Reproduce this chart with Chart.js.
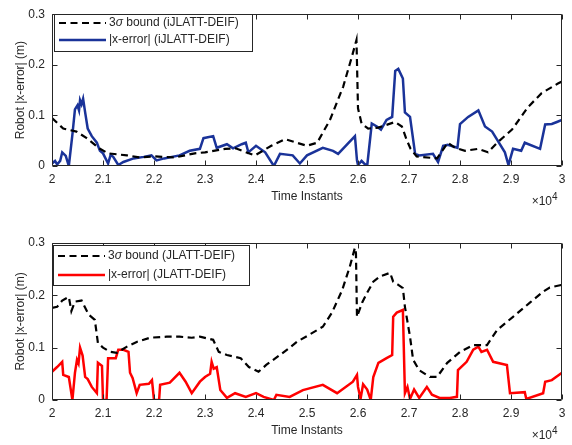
<!DOCTYPE html>
<html>
<head>
<meta charset="utf-8">
<script src="https://cdn.jsdelivr.net/npm/chart.js@4"></script>
<style>
  html, body { margin: 0; padding: 0; background: #fff; }
  #wrap { position: relative; width: 572px; height: 445px; }
  canvas { position: absolute; left: 0; }
</style>
</head>
<body>
<div id="wrap">
  <canvas id="top" width="572" height="222" style="top:0"></canvas>
  <canvas id="bottom" width="572" height="223" style="top:222px"></canvas>
</div>
<script>
// Axis ticks shared by both panels (time in instants, shown as x10^4)
const xTickValues = [20000, 21000, 22000, 23000, 24000, 25000, 26000, 27000, 28000, 29000, 30000];
const xTickLabels = ["2", "2.1", "2.2", "2.3", "2.4", "2.5", "2.6", "2.7", "2.8", "2.9", "3"];
const yTickValues = [0, 0.1, 0.2, 0.3];
const yTickLabels = ["0", "0.1", "0.2", "0.3"];

// Top panel: iJLATT-DEIF
const topBoundT = [20000, 20220, 20480, 20680, 20940, 21100, 21470, 21720, 22000, 22410, 22800, 23000, 23400, 23600,
  23780, 23980, 24300, 24570, 24800, 25000, 25200, 25450, 25710, 25880, 25970, 26000, 26070, 26200, 26400, 26730,
  26860, 26950, 27030, 27150, 27550, 27760, 27900, 28100, 28360, 28550, 28730, 29020, 29330, 29600, 29920, 30000];
const topBoundV = [0.095, 0.074, 0.068, 0.055, 0.034, 0.025, 0.021, 0.017, 0.019, 0.017, 0.025, 0.027, 0.034, 0.035,
  0.028, 0.021, 0.040, 0.053, 0.046, 0.040, 0.046, 0.091, 0.157, 0.216, 0.249, 0.114, 0.084, 0.074, 0.076, 0.087,
  0.078, 0.053, 0.034, 0.019, 0.015, 0.046, 0.036, 0.030, 0.034, 0.027, 0.046, 0.072, 0.116, 0.144, 0.163, 0.167];
const topErrT = [20000, 20060, 20100, 20160, 20200, 20270, 20330, 20400, 20450, 20500, 20530, 20550, 20580, 20610,
  20650, 20700, 20780, 20880, 20940, 21000, 21100, 21150, 21200, 21300, 21400, 21600, 21800, 21950, 22050, 22200,
  22500, 22700, 22900, 22970, 23160, 23230, 23430, 23550, 23720, 23800, 23850, 24000, 24180, 24350, 24470, 24720,
  24860, 25000, 25310, 25510, 25610, 25940, 25980, 26000, 26070, 26120, 26180, 26270, 26370, 26450, 26560, 26670,
  26730, 26790, 26880, 26920, 27020, 27120, 27200, 27470, 27570, 27670, 27760, 27950, 28000, 28160, 28360, 28490,
  28630, 28880, 28950, 29040, 29200, 29270, 29570, 29670, 29800, 29900, 30000];
const topErrV = [0.005, 0.010, 0.003, 0.010, 0.027, 0.020, 0.000, 0.062, 0.112, 0.120, 0.110, 0.130, 0.122, 0.133,
  0.106, 0.074, 0.059, 0.046, 0.030, 0.025, 0.005, 0.022, 0.018, 0.002, 0.008, 0.015, 0.018, 0.021, 0.011, 0.015,
  0.021, 0.030, 0.034, 0.055, 0.059, 0.036, 0.043, 0.035, 0.043, 0.046, 0.027, 0.040, 0.027, 0.000, 0.024, 0.021,
  0.005, 0.021, 0.036, 0.030, 0.024, 0.059, 0.011, 0.002, 0.010, 0.005, 0.000, 0.084, 0.078, 0.072, 0.091, 0.097,
  0.188, 0.192, 0.173, 0.106, 0.097, 0.024, 0.021, 0.024, 0.008, 0.040, 0.042, 0.036, 0.083, 0.097, 0.110, 0.078,
  0.068, 0.027, 0.002, 0.034, 0.030, 0.046, 0.034, 0.082, 0.083, 0.087, 0.091];

// Bottom panel: JLATT-DEIF
const botBoundT = [20000, 20100, 20200, 20330, 20380, 20450, 20580, 20720, 20840, 20900, 21000, 21140, 21270, 21470,
  21660, 21920, 22250, 22500, 22740, 22900, 23160, 23270, 23430, 23700, 23860, 24050, 24200, 24470, 24660, 24800,
  25050, 25310, 25490, 25690, 25840, 25940, 25960, 25980, 26080, 26180, 26300, 26430, 26630, 26690, 26790, 26880,
  26920, 27020, 27080, 27200, 27410, 27550, 27750, 28000, 28260, 28530, 28730, 29040, 29370, 29630, 29760, 30000];
const botBoundV = [0.176, 0.178, 0.190, 0.197, 0.170, 0.188, 0.190, 0.163, 0.153, 0.109, 0.100, 0.092, 0.090, 0.102,
  0.111, 0.119, 0.121, 0.121, 0.119, 0.121, 0.115, 0.092, 0.086, 0.080, 0.063, 0.054, 0.067, 0.086, 0.100, 0.111,
  0.125, 0.140, 0.167, 0.210, 0.255, 0.291, 0.280, 0.159, 0.186, 0.205, 0.226, 0.236, 0.243, 0.226, 0.220, 0.214,
  0.178, 0.121, 0.077, 0.057, 0.044, 0.044, 0.071, 0.092, 0.105, 0.105, 0.134, 0.159, 0.186, 0.207, 0.215, 0.220];
const botErrT = [20000, 20100, 20200, 20220, 20330, 20360, 20400, 20450, 20490, 20520, 20550, 20600, 20650, 20700,
  20780, 20880, 20900, 20980, 21000, 21070, 21100, 21250, 21300, 21400, 21500, 21530, 21580, 21660, 21720, 21900,
  21960, 22000, 22100, 22120, 22310, 22500, 22620, 22740, 22900, 23000, 23100, 23130, 23170, 23230, 23300, 23430,
  23590, 23800, 24000, 24150, 24350, 24400, 24660, 24920, 25310, 25590, 25900, 25980, 26000, 26050, 26100, 26180,
  26250, 26300, 26400, 26560, 26670, 26690, 26760, 26880, 26920, 26970, 27020, 27100, 27200, 27350, 27450, 27600,
  27800, 27940, 27960, 28130, 28260, 28360, 28420, 28530, 28650, 28920, 28980, 29270, 29300, 29630, 29670, 29800,
  30000];
const botErrV = [0.054, 0.063, 0.073, 0.048, 0.044, 0.025, 0.000, 0.052, 0.077, 0.070, 0.100, 0.085, 0.044, 0.040,
  0.025, 0.013, 0.071, 0.065, 0.000, 0.000, 0.080, 0.080, 0.096, 0.096, 0.092, 0.052, 0.042, 0.013, 0.029, 0.031,
  0.038, 0.000, 0.000, 0.029, 0.033, 0.052, 0.035, 0.013, 0.035, 0.044, 0.050, 0.073, 0.060, 0.063, 0.019, 0.004,
  0.013, 0.006, 0.013, 0.006, 0.000, 0.010, 0.006, 0.019, 0.029, 0.013, 0.035, 0.048, 0.025, 0.002, 0.030, 0.020,
  0.000, 0.044, 0.071, 0.080, 0.086, 0.159, 0.167, 0.172, 0.013, 0.025, 0.002, 0.020, 0.004, 0.025, 0.010, 0.004,
  0.004, 0.006, 0.057, 0.073, 0.096, 0.102, 0.092, 0.096, 0.073, 0.067, 0.013, 0.015, 0.002, 0.013, 0.035, 0.038,
  0.052];

const AXIS = "#262626";
const FONT = "'Liberation Sans', Arial, Helvetica, sans-serif";

function pairs(ts, vs) {
  return ts.map((t, i) => ({ x: t, y: vs[i] }));
}

// Draw a label, putting the sigma in italics like MATLAB's tex interpreter
function drawLabel(ctx, text, x, y) {
  const parts = text.split("σ");
  ctx.textBaseline = "middle";
  ctx.textAlign = "left";
  let cx = x;
  parts.forEach((p, i) => {
    if (i > 0) {
      ctx.font = "italic 12px " + FONT;
      ctx.fillText("σ", cx, y);
      cx += ctx.measureText("σ").width;
    }
    ctx.font = "12px " + FONT;
    ctx.fillText(p, cx, y);
    cx += ctx.measureText(p).width;
  });
}

// Box, inward ticks on all sides, boxed legend and the x10^4 exponent
const matlabFrame = {
  id: "matlabFrame",
  afterDatasetsDraw(chart, args, opts) {
    const { ctx, chartArea: a, scales } = chart;
    const L = Math.round(a.left) + 0.5, R = Math.round(a.right) - 0.5;
    const T = Math.round(a.top) + 0.5, B = Math.round(a.bottom) - 0.5;
    ctx.save();
    ctx.strokeStyle = AXIS;
    ctx.lineWidth = 1;
    ctx.setLineDash([]);
    ctx.beginPath();
    for (const v of xTickValues) {
      const px = Math.round(scales.x.getPixelForValue(v)) + 0.5;
      ctx.moveTo(px, B); ctx.lineTo(px, B - 5);
      ctx.moveTo(px, T); ctx.lineTo(px, T + 5);
    }
    for (const v of yTickValues) {
      const py = Math.round(scales.y.getPixelForValue(v)) + 0.5;
      ctx.moveTo(L, py); ctx.lineTo(L + 5, py);
      ctx.moveTo(R, py); ctx.lineTo(R - 5, py);
    }
    ctx.rect(L, T, R - L, B - T);
    ctx.stroke();

    // legend
    const lg = opts.legend;
    ctx.fillStyle = "#fff";
    ctx.fillRect(lg.x, lg.y, lg.w, lg.h);
    ctx.strokeStyle = AXIS;
    ctx.strokeRect(lg.x + 0.5, lg.y + 0.5, lg.w, lg.h);
    chart.data.datasets.forEach((ds, i) => {
      const y = lg.y + lg.rows[i];
      ctx.strokeStyle = ds.borderColor;
      ctx.lineWidth = ds.borderWidth;
      ctx.setLineDash(ds.borderDash || []);
      ctx.beginPath();
      ctx.moveTo(lg.x + 5, y);
      ctx.lineTo(lg.x + 52, y);
      ctx.stroke();
      ctx.setLineDash([]);
      ctx.fillStyle = AXIS;
      drawLabel(ctx, ds.label, lg.x + 55, y);
    });

    // x10^4 exponent under the right end of the axis
    ctx.fillStyle = AXIS;
    ctx.textBaseline = "alphabetic";
    ctx.textAlign = "right";
    ctx.font = "12px " + FONT;
    const ex = a.right - 10, ey = a.bottom + 39;
    ctx.fillText("×10", ex, ey);
    ctx.textAlign = "left";
    ctx.font = "10px " + FONT;
    ctx.fillText("4", ex, ey - 5);
    ctx.restore();
  },
};

function buildChart(id, g, boundT, boundV, errT, errV, boundLabel, errLabel, errColour) {
  const canvas = document.getElementById(id);
  const H = canvas.height;
  const tickFont = { family: FONT, size: 12 };
  return new Chart(canvas, {
    type: "line",
    data: {
      datasets: [
        { label: boundLabel, data: pairs(boundT, boundV), borderColor: "#000", borderWidth: 2.2,
          borderDash: [7, 4.5], pointRadius: 0, tension: 0 },
        { label: errLabel, data: pairs(errT, errV), borderColor: errColour, borderWidth: 2.5,
          pointRadius: 0, tension: 0 },
      ],
    },
    options: {
      responsive: false,
      animation: false,
      layout: { padding: { top: g.plotTop, right: 10, left: 0, bottom: 0 } },
      plugins: {
        legend: { display: false },
        tooltip: { enabled: false },
        matlabFrame: { legend: g.legend },
      },
      scales: {
        x: {
          type: "linear",
          min: 20000,
          max: 30000,
          afterFit: (s) => { s.height = H - g.plotBottom; },
          afterBuildTicks: (s) => { s.ticks = xTickValues.map((v) => ({ value: v })); },
          ticks: { callback: (v, i) => xTickLabels[i], padding: 6, color: AXIS, font: tickFont,
            maxRotation: 0, autoSkip: false },
          grid: { display: false, drawTicks: false },
          border: { display: false },
          title: { display: true, text: "Time Instants", color: AXIS, font: tickFont,
            padding: { top: 0, bottom: H - 7.2 - (g.plotBottom + 30.5) } },
        },
        y: {
          type: "linear",
          min: 0,
          max: 0.3,
          afterFit: (s) => { s.width = 52; },
          afterBuildTicks: (s) => { s.ticks = yTickValues.map((v) => ({ value: v })); },
          ticks: { callback: (v, i) => yTickLabels[i], padding: 7, color: AXIS, font: tickFont },
          grid: { display: false, drawTicks: false },
          border: { display: false },
          title: { display: true, text: "Robot |x-error| (m)", color: AXIS, font: tickFont,
            padding: { top: 13, bottom: 0 } },
        },
      },
    },
    plugins: [matlabFrame],
  });
}

buildChart("top",
  { plotTop: 8, plotBottom: 166, legend: { x: 54, y: 14, w: 198, h: 37, rows: [9, 26] } },
  topBoundT, topBoundV, topErrT, topErrV,
  "3σ bound (iJLATT-DEIF)", "|x-error| (iJLATT-DEIF)", "#1a3399");

buildChart("bottom",
  { plotTop: 21, plotBottom: 178, legend: { x: 53, y: 23, w: 196, h: 40, rows: [11, 30] } },
  botBoundT, botBoundV, botErrT, botErrV,
  "3σ bound (JLATT-DEIF)", "|x-error| (JLATT-DEIF)", "#ff0000");
</script>
</body>
</html>
